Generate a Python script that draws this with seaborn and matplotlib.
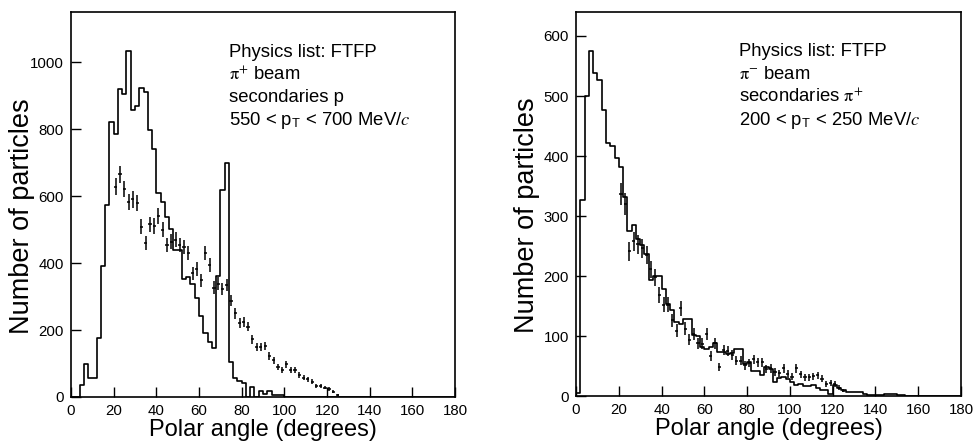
import numpy as np
import pandas as pd
import matplotlib
matplotlib.use("Agg")
import matplotlib.pyplot as plt
import seaborn as sns

# ---------------- data ----------------
bin_edges = list(range(0, 182, 2))  # 2-degree bins, 0..180

# Left panel: pi+ beam, secondaries p, 550<pT<700 MeV/c  (model histogram, FTFP)
left_hist = [0, 0, 35, 100, 58, 58, 175, 391, 575, 820,
             785, 921, 904, 1035, 857, 870, 924, 911, 797, 740,
             608, 583, 538, 503, 439, 439, 352, 359, 339, 296,
             242, 192, 165, 145, 360, 618, 698, 105, 56, 48,
             41, 0, 29, 0, 19, 10, 19, 5, 6, 6] + [0] * 40

left_pts_x = [21, 23, 25, 27, 29, 31, 33, 35, 37, 39, 41, 43, 45, 47, 49, 51, 53, 55,
              57, 59, 61, 63, 65, 67, 69, 71, 73, 75, 77, 79, 81, 83, 85, 87, 89, 91,
              93, 95, 97, 99, 101, 103, 105, 107, 109, 111, 113, 115, 117, 119, 121, 123, 125]
left_pts_y = [628, 665, 621, 583, 590, 580, 509, 461, 516, 511, 541, 500, 453, 464, 470, 454, 449, 429,
              369, 382, 349, 429, 394, 327, 339, 324, 334, 288, 250, 220, 225, 210, 172, 150, 150, 152,
              122, 110, 90, 81, 98, 81, 81, 66, 58, 53, 46, 33, 33, 28, 24, 16, 6]
left_pts_err = [25, 26, 25, 24, 24, 24, 23, 21, 23, 23, 23, 22, 21, 22, 22, 21, 21, 21,
                19, 20, 19, 21, 20, 18, 18, 18, 18, 17, 16, 15, 15, 14, 13, 12, 12, 12,
                11, 10, 9.5, 9, 10, 9, 9, 8, 7.6, 7.3, 6.8, 5.7, 5.7, 5.3, 4.9, 4, 2.5]

# Right panel: pi- beam, secondaries pi+, 200<pT<250 MeV/c
right_hist = [5, 327, 500, 575, 538, 526, 477, 422, 417, 396,
              381, 332, 275, 285, 262, 252, 236, 193, 200, 200,
              178, 154, 143, 124, 120, 128, 128, 102, 100, 82,
              78, 82, 88, 74, 74, 70, 72, 78, 78, 54,
              57, 42, 42, 35, 49, 45, 24, 30, 32, 28,
              24, 18, 20, 16, 16, 19, 14, 10, 10, 4,
              18, 14, 10, 6, 6, 6, 6, 4, 2, 2,
              2, 2, 4, 4, 4, 2, 2, 0, 0, 0,
              0, 0, 0, 0, 0, 0, 0, 0, 0, 0]

right_pts_x = left_pts_x
right_pts_y = [337, 320, 241, 258, 253, 246, 235, 211, 198, 168, 152, 152, 126, 109, 146, 112, 94, 103,
               88, 87, 104, 67, 88, 48, 77, 75, 68, 59, 59, 51, 55, 61, 56, 56, 45, 46,
               40, 38, 46, 37, 32, 46, 36, 31, 31, 33, 35, 29, 20, 22, 20, 14, 9]
right_pts_err = [18, 18, 15.5, 16, 16, 15.7, 15.3, 14.5, 14, 13, 12.3, 12.3, 11.2, 10.4, 12, 10.6, 9.7, 10.1,
                 9.4, 9.3, 10.2, 8.2, 9.4, 6.9, 8.8, 8.7, 8.2, 7.7, 7.7, 7.1, 7.4, 7.8, 7.5, 7.5, 6.7, 6.8,
                 6.3, 6.2, 6.8, 6.1, 5.7, 6.8, 6, 5.6, 5.6, 5.7, 5.9, 5.4, 4.5, 4.7, 4.5, 3.7, 3]

left_text = ["Physics list: FTFP", r"$\mathrm{\pi}^{+}$ beam", "secondaries p",
             r"550 < p$_\mathregular{T}$ < 700 MeV/$c$"]
right_text = ["Physics list: FTFP", r"$\mathrm{\pi}^{-}$ beam", r"secondaries $\mathrm{\pi}^{+}$",
              r"200 < p$_\mathregular{T}$ < 250 MeV/$c$"]

x_ticks = list(range(0, 200, 20))
left_yticks = [0, 200, 400, 600, 800, 1000]
right_yticks = [0, 100, 200, 300, 400, 500, 600]

# ---------------- style ----------------
sns.set_theme(style="ticks")
plt.rcParams["font.family"] = ["Liberation Sans", "DejaVu Sans"]
plt.rcParams["mathtext.fontset"] = "stix"
for k in ["text.color", "axes.labelcolor", "xtick.color", "ytick.color", "axes.edgecolor"]:
    plt.rcParams[k] = "black"

fig = plt.figure(figsize=(9.74, 4.44), dpi=100)
axL = fig.add_axes([0.0729, 0.1059, 0.3943, 0.867])
axR = fig.add_axes([0.5914, 0.108, 0.3953, 0.865])

centers = [(bin_edges[i] + bin_edges[i + 1]) / 2 for i in range(len(bin_edges) - 1)]


def draw(ax, hist, px, py, perr, ylim, yticks, texts, tx):
    df = pd.DataFrame({"angle": centers, "count": hist})
    sns.histplot(data=df, x="angle", weights="count", bins=bin_edges, element="step",
                 fill=False, color="black", linewidth=1.2, ax=ax)
    ax.errorbar(px, py, yerr=perr, xerr=0.75, fmt="none", ecolor="black",
                elinewidth=1.1, capsize=0)
    ax.set_xlim(0, 180)
    ax.set_ylim(*ylim)
    ax.set_xticks(x_ticks)
    ax.set_yticks(yticks)
    ax.tick_params(direction="in", length=7, width=1.0, labelsize=10.8, color="black",
                   labelcolor="black", top=False, right=False)
    ax.tick_params(axis="x", pad=5)
    ax.tick_params(axis="y", pad=5)
    for s in ax.spines.values():
        s.set_visible(True)
        s.set_linewidth(1.2)
        s.set_color("black")
    ax.set_xlabel("Polar angle (degrees)", fontsize=17, va="center")
    ax.set_ylabel("Number of particles", fontsize=19.5, va="center")
    ax.xaxis.set_label_coords(0.5, -0.087)
    ax.yaxis.set_label_coords(-0.127, 0.47)
    ys = [0.896, 0.836, 0.777, 0.717]
    for t, y in zip(texts, ys):
        ax.text(tx, y, t, transform=ax.transAxes, fontsize=13.3, va="center", ha="left")


draw(axL, left_hist, left_pts_x, left_pts_y, left_pts_err, (0, 1150), left_yticks, left_text, 0.411)
draw(axR, right_hist, right_pts_x, right_pts_y, right_pts_err, (0, 640), right_yticks, right_text, 0.424)

fig.savefig("out.png", dpi=100)
